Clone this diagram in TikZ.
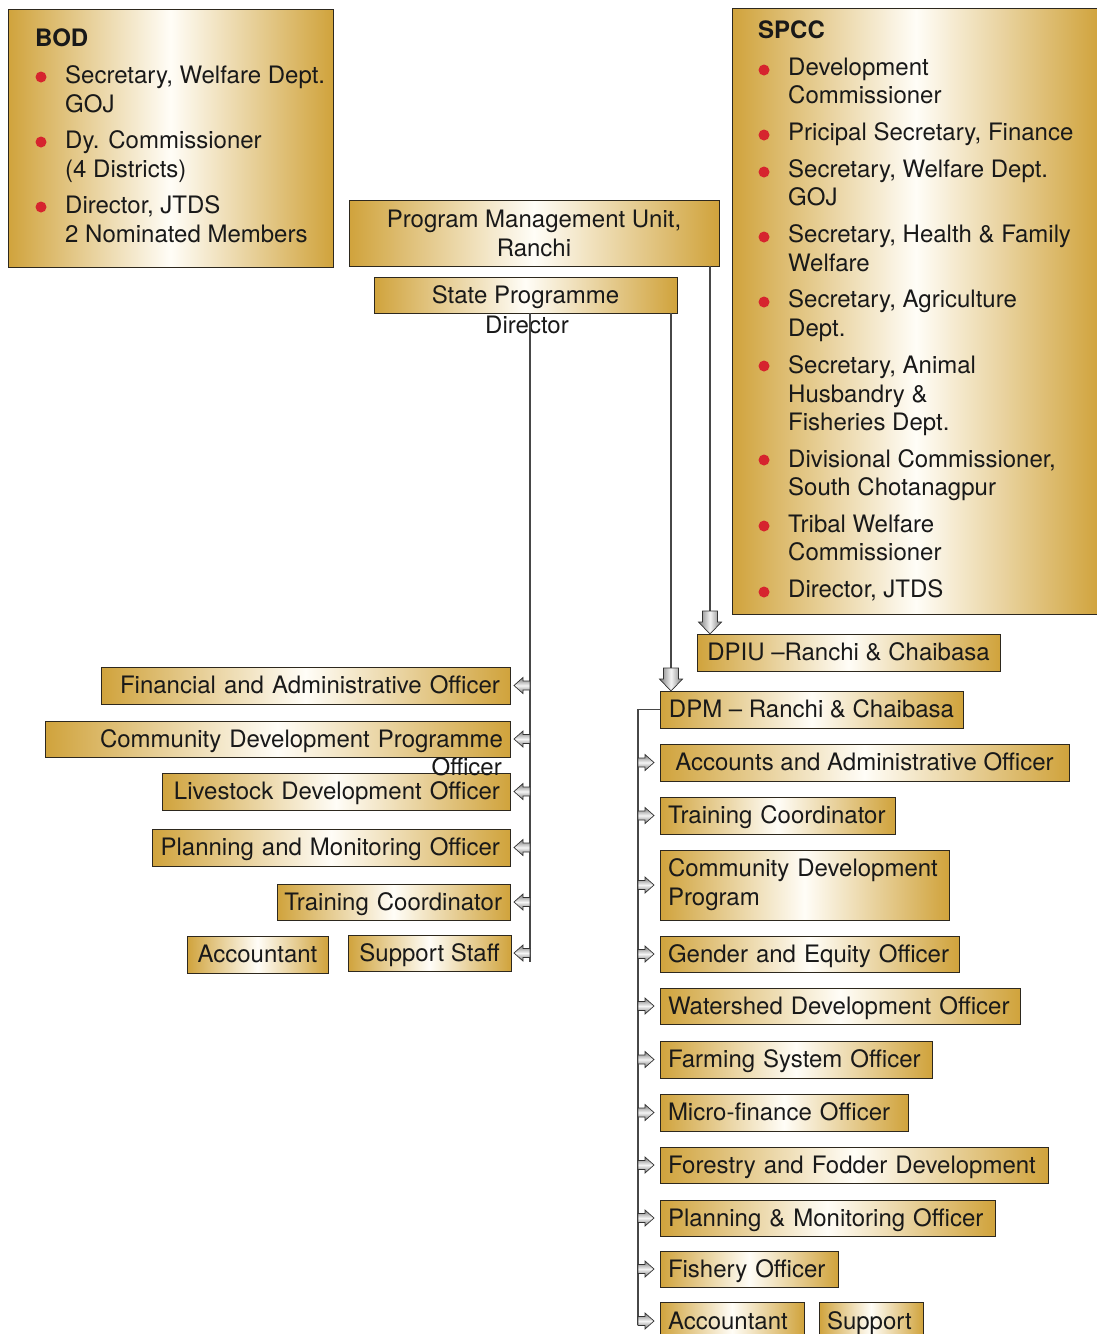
\documentclass[tikz,border=0pt]{standalone}
\usepackage{fontspec}
\setmainfont{TeX Gyre Heros}
\usetikzlibrary{calc}
\definecolor{gold}{RGB}{208,163,60}
\definecolor{goldmid}{RGB}{255,253,247}
\definecolor{txt}{RGB}{25,25,25}
\definecolor{bred}{RGB}{214,36,46}
\definecolor{frame}{RGB}{45,40,30}
\definecolor{arrdark}{RGB}{120,120,120}
\definecolor{arrlight}{RGB}{245,245,245}
\newcommand\lbl{\fontsize{24}{29}\selectfont}
\newcommand\darr[1]{\path[arrd] (#1) -- ++(-11.5,-12) -- ++(4,0) -- ++(0,-11) -- ++(15,0) -- ++(0,11) -- ++(4,0) -- cycle;}
\newcommand\larr[1]{\path[arrh] (#1) ++(0,-4.5) -- ++(-7,0) -- ++(0,-3.5) -- ++(-9,8) -- ++(9,8) -- ++(0,-3.5) -- ++(7,0) -- cycle;}
\newcommand\rarr[1]{\path[arrh] (#1) ++(0,-4.5) -- ++(7,0) -- ++(0,-3.5) -- ++(9,8) -- ++(-9,8) -- ++(0,-3.5) -- ++(-7,0) -- cycle;}
\tikzset{
  bx/.style={draw=frame, line width=0.9pt, left color=gold, right color=gold, middle color=goldmid,
             anchor=north west, inner sep=0pt, outer sep=0pt, font=\lbl, text=txt},
  lft/.style={align=right, inner xsep=10pt, text height=19pt, text depth=3pt},
  rgt/.style={align=left, inner xsep=8pt, text height=19pt, text depth=3pt},
  rgttwo/.style={align=left, inner xsep=8pt},
  ctr/.style={align=center, text height=19pt, text depth=3pt},
  ctrtwo/.style={align=center},
  lt/.style={anchor=base west, inner sep=0pt, font=\lbl, text=txt},
  conn/.style={draw=black!72, line width=1.4pt},
  arrd/.style={left color=arrdark, right color=arrdark, middle color=arrlight, draw=black!80, line width=0.7pt},
  arrh/.style={top color=arrdark, bottom color=arrdark, middle color=arrlight, draw=black!80, line width=0.7pt},
  dot/.style={fill=bred}
}
\begin{document}
\begin{tikzpicture}[x=1pt, y=-1pt]
\useasboundingbox (0,0) rectangle (1096,1334);

% ---------- BOD ----------
\node[bx, minimum width=325pt, minimum height=258pt] (bod) at (8,9) {};
\node[lt] (bodt) at (35,46) {\textbf{BOD}};
\fill[dot] (41,77) circle (5.5);
\fill[dot] (41,142) circle (5.5);
\fill[dot] (41,207) circle (5.5);
\node[lt] (bod1) at (65,83) {Secretary, Welfare Dept.};
\node[lt] (bod2) at (65,112) {GOJ};
\node[lt] (bod3) at (65,148) {Dy. Commissioner};
\node[lt] (bod4) at (65,177) {(4 Districts)};
\node[lt] (bod5) at (65,213) {Director, JTDS};
\node[lt] (bod6) at (65,242) {2 Nominated Members};

% ---------- SPCC ----------
\node[bx, minimum width=368pt, minimum height=606pt] (spcc) at (732,8) {};
\node[lt] (spt) at (758,38) {\textbf{SPCC}};
\foreach \yy in {70,135,172,237,302,366,460,526,592} \fill[dot] (764,\yy) circle (5.5);
\node[lt] (sp1) at (788,75) {Development};
\node[lt] (sp2) at (788,103) {Commissioner};
\node[lt] (sp3) at (788,140) {Pricipal Secretary, Finance};
\node[lt] (sp4) at (788,177) {Secretary, Welfare Dept.};
\node[lt] (sp5) at (788,205) {GOJ};
\node[lt] (sp6) at (788,242) {Secretary, Health \& Family};
\node[lt] (sp7) at (788,271) {Welfare};
\node[lt] (sp8) at (788,307) {Secretary, Agriculture};
\node[lt] (sp9) at (788,336) {Dept.};
\node[lt] (sp10) at (788,373) {Secretary, Animal};
\node[lt] (sp11) at (788,402) {Husbandry \&};
\node[lt] (sp12) at (788,430) {Fisheries Dept.};
\node[lt] (sp13) at (788,467) {Divisional Commissioner,};
\node[lt] (sp14) at (788,495) {South Chotanagpur};
\node[lt] (sp15) at (788,532) {Tribal Welfare};
\node[lt] (sp16) at (788,560) {Commissioner};
\node[lt] (sp17) at (788,597) {Director, JTDS};

% ---------- PMU / SPD ----------
\node[bx, ctrtwo, minimum width=370pt, minimum height=66pt] (pmu) at (349,200) {Program Management Unit,\\Ranchi};
\node[bx, ctr, minimum width=303pt, minimum height=36pt] (spd) at (374,277) {State Programme};
\node[anchor=base, inner sep=0pt, font=\lbl, text=txt] (spdd) at (527,333) {Director};

% ---------- district units ----------
\node[bx, ctr, minimum width=303pt, minimum height=37pt] (dpiu) at (697,634) {DPIU \textendash Ranchi \& Chaibasa};
\node[bx, ctr, minimum width=303pt, minimum height=37pt] (dpm) at (660,691) {DPM \textendash{} Ranchi \& Chaibasa};

% ---------- left column ----------
\node[bx, lft, minimum width=409pt, minimum height=37pt, text width=389pt] (fao) at (101,667) {\llap{Financial and Administrative Officer}};
\node[bx, lft, minimum width=465pt, minimum height=36pt, text width=451pt, inner xsep=7pt] (cdpo) at (45,721) {\llap{Community Development Programme}};
\node[bx, lft, minimum width=348pt, minimum height=37pt, text width=328pt] (lsd) at (162,773) {\llap{Livestock Development Officer}};
\node[anchor=base east, inner sep=0pt, font=\lbl, text=txt] (cdpo2) at (502,775) {Officer};
\node[bx, lft, minimum width=358pt, minimum height=37pt, text width=338pt] (pmo) at (152,829) {\llap{Planning and Monitoring Officer}};
\node[bx, lft, minimum width=233pt, minimum height=36pt, text width=217pt, inner xsep=8pt] (ltc) at (277,884) {\llap{Training Coordinator}};
\node[bx, ctr, minimum width=141pt, minimum height=37pt] (lacc) at (187,936) {Accountant};
\node[bx, ctr, minimum width=163pt, minimum height=36pt] (lsup) at (348,935) {Support Staff};

% ---------- right column ----------
\node[bx, ctr, minimum width=409pt, minimum height=37pt] (aao) at (660,744) {Accounts and Administrative Officer};
\node[bx, rgt, minimum width=235pt, minimum height=37pt, text width=219pt] (rtc) at (660,797) {\rlap{Training Coordinator}};
\node[bx, rgttwo, minimum width=289pt, minimum height=70pt, text width=273pt] (rcd) at (660,850) {Community Development\\Program};
\node[bx, rgt, minimum width=299pt, minimum height=36pt, text width=283pt] (geo) at (660,936) {\rlap{Gender and Equity Officer}};
\node[bx, rgt, minimum width=360pt, minimum height=36pt, text width=344pt] (wdo) at (660,988) {\rlap{Watershed Development Officer}};
\node[bx, rgt, minimum width=272pt, minimum height=37pt, text width=256pt] (fso) at (660,1041) {\rlap{Farming System Officer}};
\node[bx, rgt, minimum width=248pt, minimum height=37pt, text width=232pt] (mfo) at (660,1094) {\rlap{Micro-finance Officer}};
\node[bx, rgt, minimum width=388pt, minimum height=36pt, text width=372pt] (ffd) at (660,1147) {\rlap{Forestry and Fodder Development}};
\node[bx, rgt, minimum width=335pt, minimum height=36pt, text width=319pt] (rpm) at (660,1200) {\rlap{Planning \& Monitoring Officer}};
\node[bx, rgt, minimum width=178pt, minimum height=36pt, text width=162pt] (fish) at (660,1251) {\rlap{Fishery Officer}};
\node[bx, rgt, minimum width=144pt, minimum height=38pt, text width=128pt] (racc) at (660,1302) {\rlap{Accountant}};
\node[bx, rgt, minimum width=104pt, minimum height=38pt, text width=88pt] (rsup) at (819,1302) {\rlap{Support}};

% ---------- connectors ----------
% PMU -> DPIU
\coordinate (pa) at ($(dpiu.north west)+(13,0)$);
\draw[conn] (pa |- pmu.south) -- ($(pa)+(0,-23)$);
\darr{pa}
% SPD -> DPM
\coordinate (sa) at ($(dpm.north west)+(11,0)$);
\draw[conn] (sa |- spd.south) -- ($(sa)+(0,-23)$);
\darr{sa}
% SPD -> left column
\coordinate (lt0) at ($(spd.south)+(4.5,0)$);
\draw[conn] (lt0) -- ($(lt0 |- lsup.east)+(0,9)$);
\larr{lt0 |- fao.east}
\larr{lt0 |- cdpo.east}
\larr{lt0 |- lsd.east}
\larr{lt0 |- pmo.east}
\larr{lt0 |- ltc.east}
\larr{lt0 |- lsup.east}
% DPM -> right column
\coordinate (rt0) at ($(dpm.west)+(-22,0)$);
\draw[conn] (dpm.west) -- (rt0) -- ($(rt0 |- racc.west)+(0,4)$);
\rarr{rt0 |- aao.west}
\rarr{rt0 |- rtc.west}
\rarr{rt0 |- rcd.west}
\rarr{rt0 |- geo.west}
\rarr{rt0 |- wdo.west}
\rarr{rt0 |- fso.west}
\rarr{rt0 |- mfo.west}
\rarr{rt0 |- ffd.west}
\rarr{rt0 |- rpm.west}
\rarr{rt0 |- fish.west}
\rarr{rt0 |- racc.west}
\end{tikzpicture}
\end{document}
